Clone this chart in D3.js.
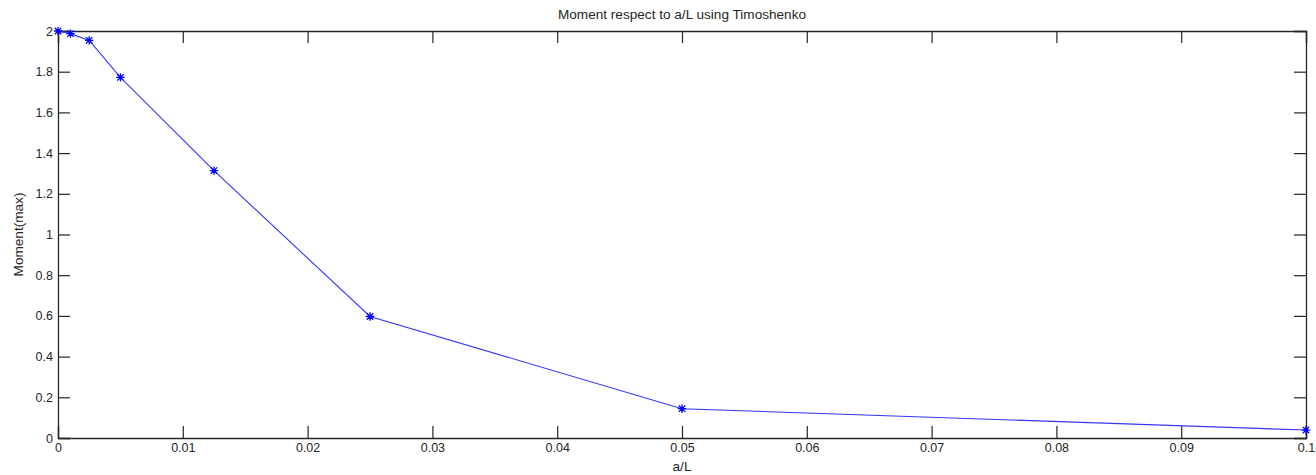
<!DOCTYPE html>
<html><head><meta charset="utf-8">
<script src="https://cdn.jsdelivr.net/npm/d3@7"></script>
<style>
body{margin:0;background:#fff;}
text{font-family:"Liberation Sans",Arial,sans-serif;}
</style></head>
<body><svg id="c" width="1316" height="475"></svg>
<script>
const aL = [0, 0.001, 0.0025, 0.005, 0.0125, 0.025, 0.05, 0.1];
const moment = [2.0, 1.987, 1.954, 1.772, 1.314, 0.597, 0.144, 0.039];
const xTicks = [0,0.01,0.02,0.03,0.04,0.05,0.06,0.07,0.08,0.09,0.1];
const yTicks = [0,0.2,0.4,0.6,0.8,1,1.2,1.4,1.6,1.8,2];
const title = "Moment respect to a/L using Timoshenko";
const xLabel = "a/L", yLabel = "Moment(max)";

const L=58, R=1306, T=31, B=438;
const svg=d3.select("#c");
const x=d3.scaleLinear().domain([0,0.1]).range([L,R]);
const y=d3.scaleLinear().domain([0,2]).range([B,T]);
const axCol="#262626", tl=12;
const fmt=d=>String(+d.toFixed(4));

svg.append("rect").attr("x",L).attr("y",T).attr("width",R-L).attr("height",B-T).attr("fill","#fff");

const gx=svg.append("g").attr("transform",`translate(0,${B})`)
 .call(d3.axisBottom(x).tickValues(xTicks).tickFormat(fmt).tickSize(-tl).tickPadding(5));
const gxt=svg.append("g").attr("transform",`translate(0,${T})`)
 .call(d3.axisTop(x).tickValues(xTicks).tickFormat("").tickSize(-tl));
const gy=svg.append("g").attr("transform",`translate(${L},0)`)
 .call(d3.axisLeft(y).tickValues(yTicks).tickFormat(fmt).tickSize(-tl).tickPadding(5));
const gyr=svg.append("g").attr("transform",`translate(${R},0)`)
 .call(d3.axisRight(y).tickValues(yTicks).tickFormat("").tickSize(-tl));
[gx,gxt,gy,gyr].forEach(g=>{
  g.select(".domain").attr("stroke",axCol).attr("stroke-width",1.3);
  g.selectAll(".tick line").attr("stroke",axCol).attr("stroke-width",1.2);
  g.selectAll(".tick text").attr("fill","#262626").attr("font-size",12.5);
});

const line=d3.line().x((d,i)=>x(aL[i])).y(d=>y(d));
svg.append("path").datum(moment).attr("d",line).attr("fill","none").attr("stroke","#3535ff").attr("stroke-width",1.1);

const s=4.2, sd=3.2;
const mk=svg.append("g").selectAll("g").data(moment).join("g")
 .attr("transform",(d,i)=>`translate(${x(aL[i])},${y(d)})`);
mk.append("path").attr("d",`M${-s},0H${s}M0,${-s}V${s}M${-sd},${-sd}L${sd},${sd}M${-sd},${sd}L${sd},${-sd}`)
 .attr("stroke","#0000ff").attr("stroke-width",1.3).attr("fill","none");

svg.append("text").attr("x",(L+R)/2).attr("y",19).attr("text-anchor","middle").attr("font-size",13.6).attr("fill","#262626").text(title);
svg.append("text").attr("x",(L+R)/2).attr("y",471).attr("text-anchor","middle").attr("font-size",13.6).attr("fill","#262626").text(xLabel);
svg.append("text").attr("transform",`translate(23,${(T+B)/2}) rotate(-90)`).attr("text-anchor","middle").attr("font-size",13.6).attr("fill","#262626").text(yLabel);
</script></body></html>
